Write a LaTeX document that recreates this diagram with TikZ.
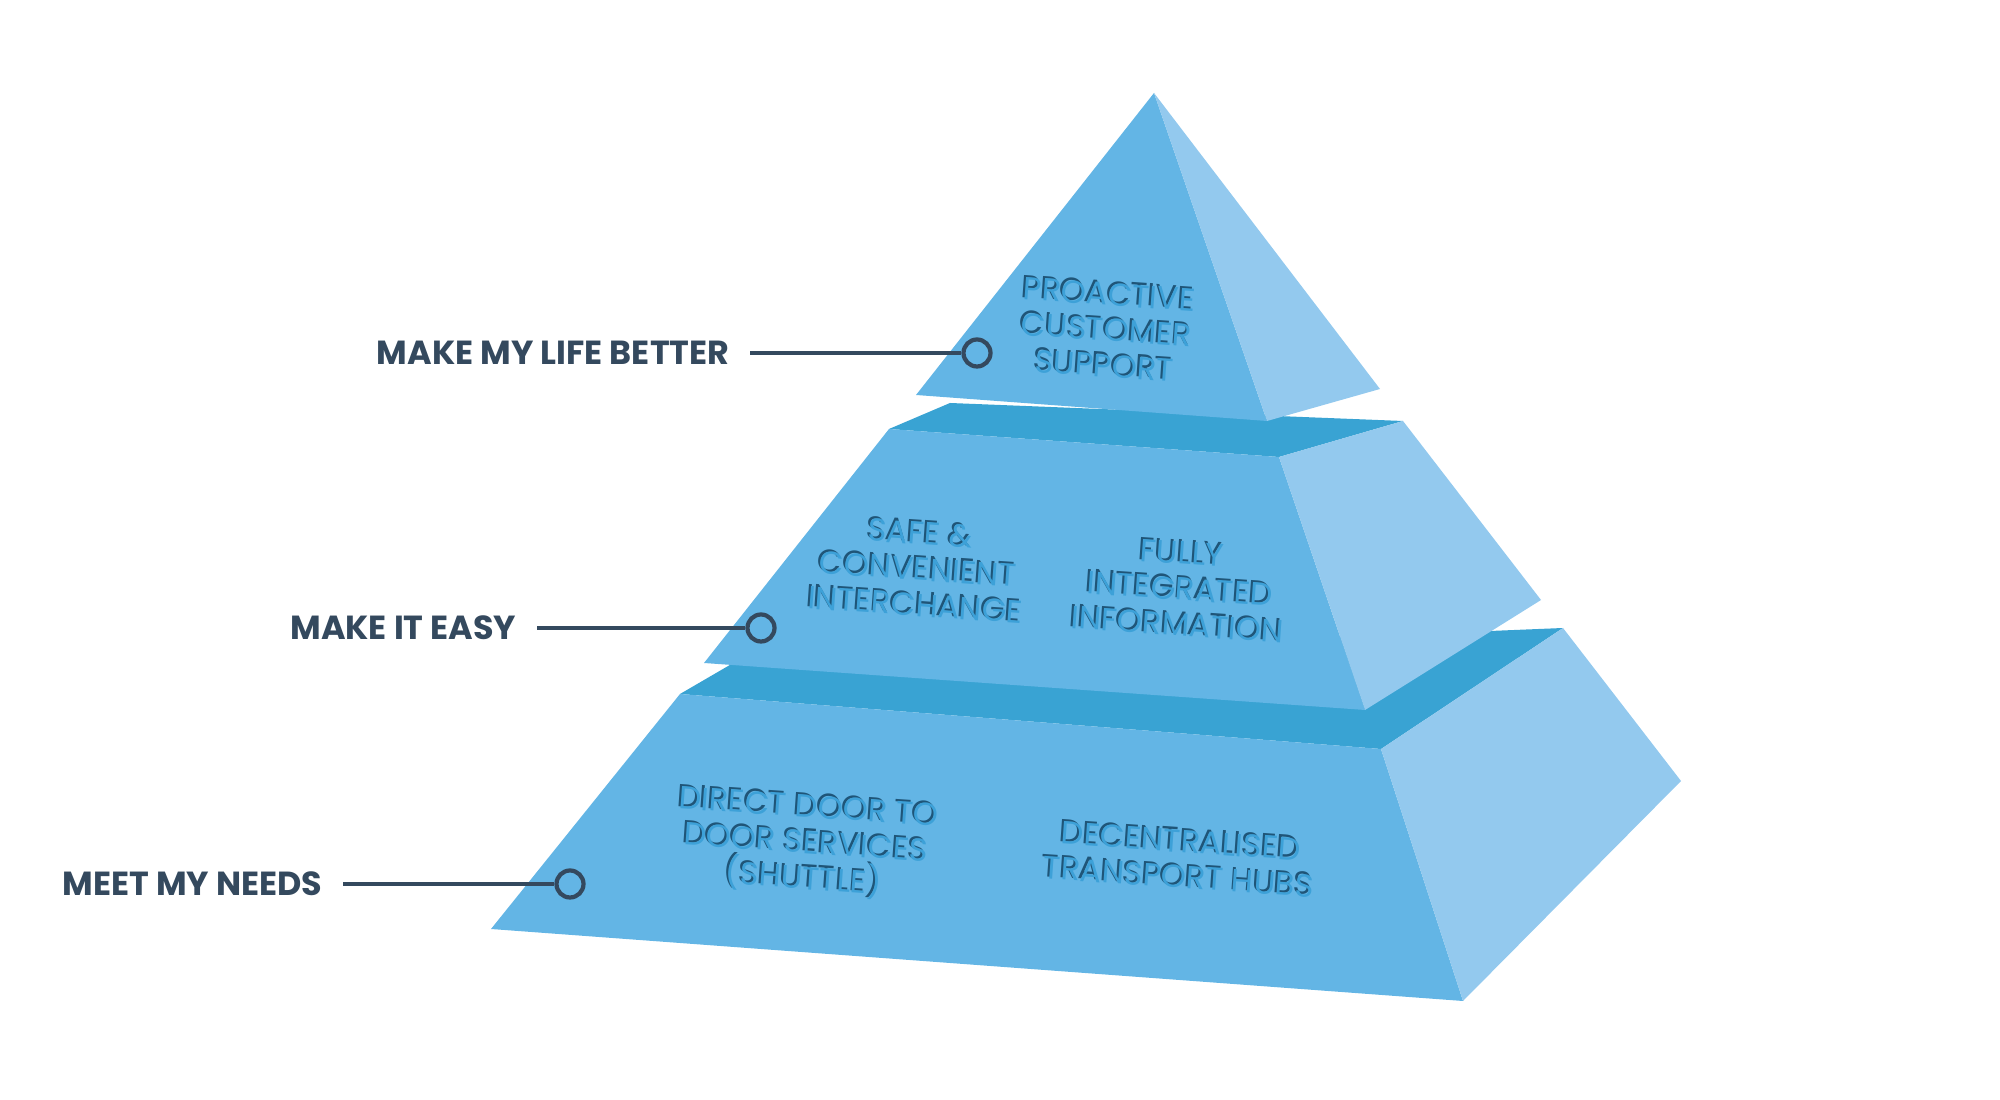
\documentclass[tikz,border=0pt]{standalone}
\usepackage{fontspec}
\setmainfont{Poppins}
\usetikzlibrary{calc}

\definecolor{face}{HTML}{63B5E5}
\definecolor{side}{HTML}{93C9EE}
\definecolor{band}{HTML}{39A3D3}
\definecolor{ink}{HTML}{34495E}
\definecolor{carve}{HTML}{3DA1D8}
\definecolor{carveshade}{HTML}{1F5578}

% one line of carved lettering: dark edge under the blue fill
\newcommand\carveline[1]{\makebox[0pt][l]{\hspace{-0.6pt}\raisebox{0.6pt}{\textcolor{carveshade}{#1}}}#1}

\begin{document}
\begin{tikzpicture}[x=1cm, y=1cm,
    tag/.style={anchor=east, text=ink, font=\fontsize{9.5}{11}\selectfont\bfseries, inner sep=0pt},
    ring/.style={circle, draw=ink, line width=1.2pt, minimum size=0.27cm, inner sep=0pt},
    lead/.style={draw=ink, line width=1.2pt},
    carved/.style={align=center, rotate=-4, text=carve, inner sep=0pt,
      font=\fontsize{9.1}{10.2}\selectfont}]
  \useasboundingbox (0,0) rectangle (20,11);

  % bottom tier
  \coordinate (B1) at (6.80,4.06);
  \coordinate (B2) at (7.35,4.38);
  \coordinate (B3) at (15.63,4.72);
  \coordinate (B4) at (13.81,3.51);
  \coordinate (B5) at (14.63,0.99);
  \coordinate (B6) at (4.91,1.71);
  \coordinate (B7) at (16.81,3.19);
  \fill[band] (B1) -- (B2) -- (B3) -- (B4) -- cycle;
  \fill[face] (B1) -- (B4) -- (B5) -- (B6) -- cycle;
  \fill[side] (B4) -- (B3) -- (B7) -- (B5) -- cycle;

  % middle tier
  \coordinate (M1) at (8.89,6.71);
  \coordinate (M2) at (9.50,6.97);
  \coordinate (M3) at (14.03,6.79);
  \coordinate (M4) at (12.79,6.43);
  \coordinate (M5) at (13.65,3.90);
  \coordinate (M6) at (7.04,4.37);
  \coordinate (M7) at (15.41,5.00);
  \fill[band] (M1) -- (M2) -- (M3) -- (M4) -- cycle;
  \fill[face] (M1) -- (M4) -- (M5) -- (M6) -- cycle;
  \fill[side] (M4) -- (M3) -- (M7) -- (M5) -- cycle;

  % top tier
  \coordinate (T) at (11.54,10.07);
  \coordinate (T1) at (9.16,7.05);
  \coordinate (T2) at (12.67,6.79);
  \coordinate (T3) at (13.80,7.11);
  \fill[face] (T) -- (T1) -- (T2) -- cycle;
  \fill[side] (T) -- (T2) -- (T3) -- cycle;

  % carved texts
  \node[carved] (p1) at (11.07,7.71)
    {\carveline{PROACTIVE}\\\carveline{CUSTOMER}\\\carveline{SUPPORT}};
  \node[carved] (p2) at (9.18,5.32)
    {\carveline{SAFE \&}\\\carveline{CONVENIENT}\\\carveline{INTERCHANGE}};
  \node[carved] (p3) at (11.80,5.12)
    {\carveline{FULLY}\\\carveline{INTEGRATED}\\\carveline{INFORMATION}};
  \node[carved] (p4) at (8.06,2.56)
    {\carveline{DIRECT DOOR TO}\\\carveline{DOOR SERVICES}\\\carveline{(SHUTTLE)}};
  \node[carved] (p5) at (11.80,2.42)
    {\carveline{DECENTRALISED}\\\carveline{TRANSPORT HUBS}};

  % level labels
  \node[tag] (l1) at (7.30,7.47) {MAKE MY LIFE BETTER};
  \node[ring] (c1) at (9.77,7.47) {};
  \draw[lead] ([xshift=0.2cm]l1.east) -- (c1.west);
  \node[tag] (l2) at (5.17,4.72) {MAKE IT EASY};
  \node[ring] (c2) at (7.61,4.72) {};
  \draw[lead] ([xshift=0.2cm]l2.east) -- (c2.west);
  \node[tag] (l3) at (3.23,2.16) {MEET MY NEEDS};
  \node[ring] (c3) at (5.70,2.16) {};
  \draw[lead] ([xshift=0.2cm]l3.east) -- (c3.west);
\end{tikzpicture}
\end{document}
